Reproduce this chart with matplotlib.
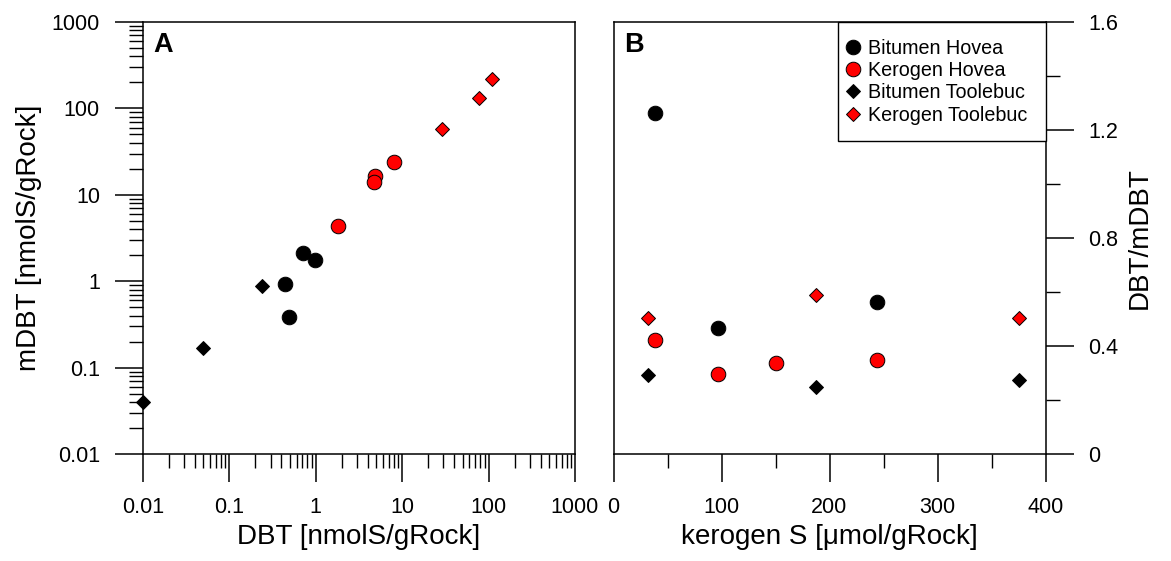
import numpy as np
import matplotlib.pyplot as plt
from matplotlib.patches import Rectangle
from matplotlib.ticker import LogLocator, MultipleLocator, FuncFormatter

plt.rcParams['font.family'] = ['Liberation Sans', 'DejaVu Sans']

# panel A: DBT vs mDBT [nmolS/gRock]
bit_hov_dbt = [0.71, 0.97, 0.435, 0.487]
bit_hov_mdbt = [2.12, 1.76, 0.94, 0.39]
ker_hov_dbt = [8.06, 4.90, 4.77, 1.80]
ker_hov_mdbt = [24.1, 16.7, 13.9, 4.30]
bit_tool_dbt = [0.238, 0.0499, 0.0100]
bit_tool_mdbt = [0.88, 0.170, 0.040]
ker_tool_dbt = [28.9, 77.4, 110]
ker_tool_mdbt = [57.5, 133, 221]

# panel B: kerogen S [umol/gRock] vs DBT/mDBT
bit_hov_s = [38, 97, 244]
bit_hov_ratio = [1.262, 0.468, 0.563]
ker_hov_s = [38, 97, 150, 244]
ker_hov_ratio = [0.423, 0.297, 0.338, 0.347]
bit_tool_s = [31.5, 187.5, 375]
bit_tool_ratio = [0.293, 0.249, 0.275]
ker_tool_s = [31.5, 187.5, 375]
ker_tool_ratio = [0.505, 0.589, 0.503]

labels = ['Bitumen Hovea', 'Kerogen Hovea', 'Bitumen Toolebuc', 'Kerogen Toolebuc']
circ = dict(marker='o', ms=10.5, mec='black', mew=0.7, ls='none')
diam = dict(marker='D', ms=7.4, mec='black', mew=0.7, ls='none')
styles = [dict(circ, mfc='black'), dict(circ, mfc='red'),
          dict(diam, mfc='black'), dict(diam, mfc='red')]

fig = plt.figure(figsize=(11.71, 5.61), dpi=100)
axA = fig.add_axes([143/1171, 107/561, 432/1171, 432/561])
axB = fig.add_axes([613.5/1171, 107/561, 432/1171, 432/561])

fmt = FuncFormatter(lambda v, p: f'{v:g}')

# ---- A
data_a = [(bit_hov_dbt, bit_hov_mdbt), (ker_hov_dbt, ker_hov_mdbt),
          (bit_tool_dbt, bit_tool_mdbt), (ker_tool_dbt, ker_tool_mdbt)]
for (x, y), st in zip(data_a, styles):
    axA.plot(x, y, clip_on=False, **st)
axA.set_xscale('log')
axA.set_yscale('log')
axA.set_xlim(0.01, 1000)
axA.set_ylim(0.01, 1000)
for a in (axA.xaxis, axA.yaxis):
    a.set_major_locator(LogLocator(base=10, numticks=10))
    a.set_minor_locator(LogLocator(base=10, subs=np.arange(2, 10), numticks=20))
    a.set_major_formatter(fmt)
    a.set_minor_formatter(FuncFormatter(lambda v, p: ''))
axA.set_xlabel('DBT [nmolS/gRock]', fontsize=20, labelpad=4)
axA.set_ylabel('mDBT [nmolS/gRock]', fontsize=20, labelpad=7)
axA.text(0.025, 0.978, 'A', transform=axA.transAxes, fontsize=19.5,
         fontweight='bold', va='top', ha='left')

# ---- B
data_b = [(bit_hov_s, bit_hov_ratio), (ker_hov_s, ker_hov_ratio),
          (bit_tool_s, bit_tool_ratio), (ker_tool_s, ker_tool_ratio)]
for (x, y), st, lab in zip(data_b, styles, labels):
    axB.plot(x, y, label=lab, **st)
axB.set_xlim(0, 400)
axB.set_ylim(0, 1.6)
axB.xaxis.set_major_locator(MultipleLocator(100))
axB.xaxis.set_minor_locator(MultipleLocator(50))
axB.yaxis.set_major_locator(MultipleLocator(0.4))
axB.yaxis.set_minor_locator(MultipleLocator(0.2))
axB.yaxis.set_major_formatter(fmt)
axB.yaxis.tick_right()
axB.yaxis.set_label_position('right')
axB.set_xlabel('kerogen S [\u03bcmol/gRock]', fontsize=20, labelpad=4)
axB.set_ylabel('DBT/mDBT', fontsize=20, labelpad=6)
axB.text(0.025, 0.978, 'B', transform=axB.transAxes, fontsize=19.5,
         fontweight='bold', va='top', ha='left')

# legend box drawn separately so the padding matches the original
axB.add_patch(Rectangle((0.5197, 0.7252), 0.4803, 0.2748, transform=axB.transAxes,
                        facecolor='white', edgecolor='black', lw=1.0,
                        zorder=4, clip_on=False))
leg = axB.legend(loc='center left', bbox_to_anchor=(0.5377, 0.862),
                 fontsize=14.2, borderaxespad=0, borderpad=0,
                 handlelength=0.7, handletextpad=0.43, labelspacing=0.17,
                 frameon=False)
leg.set_zorder(5)

for ax in (axA, axB):
    ax.tick_params(which='major', direction='out', length=20, width=1.1,
                   labelsize=15.5, pad=11, color='black')
    ax.tick_params(which='minor', direction='out', length=10, width=1.0)
    for s in ax.spines.values():
        s.set_linewidth(1.1)
axB.tick_params(axis='y', which='both', left=False, right=True)

fig.savefig('out.png', dpi=100)
